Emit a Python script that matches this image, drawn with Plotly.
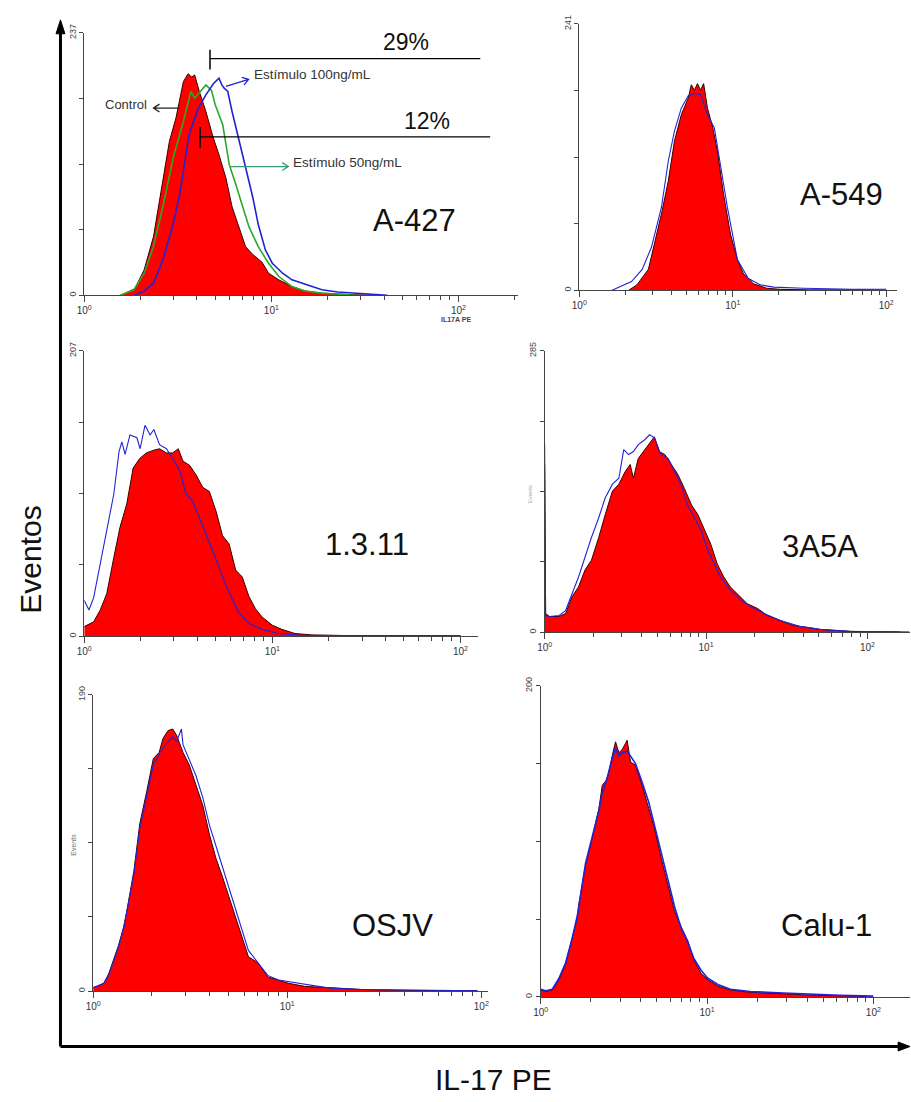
import numpy as np
import plotly.graph_objects as go

W, H = 911, 1102

# ---------------- data (x in log10 of IL-17 PE, y = events) ----------------
A427_CTRL_LOG = [0.20, 0.22, 0.27, 0.32, 0.37, 0.42, 0.455, 0.49, 0.53, 0.555, 0.575, 0.59, 0.615, 0.65, 0.69, 0.72,
                 0.757, 0.79, 0.825, 0.862, 0.90, 0.95, 0.985, 1.04, 1.11, 1.18, 1.27, 1.355, 1.45, 1.6]
A427_CTRL = [0, 2, 6, 23, 53, 104, 139, 160, 193, 200, 197, 199, 184, 166, 142, 127,
             106, 80, 62, 44, 37, 30, 20, 14, 8, 4, 2, 1, 0.5, 0]
A427_50_LOG = [0.19, 0.265, 0.32, 0.37, 0.42, 0.475, 0.53, 0.57, 0.59, 0.61, 0.65, 0.68, 0.70, 0.74, 0.775, 0.81,
               0.845, 0.88, 0.93, 0.985, 1.04, 1.11, 1.18, 1.27, 1.36, 1.45]
A427_50 = [0, 5, 20, 44, 80, 124, 157, 184, 178, 182, 190, 185, 172, 154, 118, 100,
           82, 62, 44, 29, 17, 8, 4, 2, 1, 0]
A427_100_LOG = [0.265, 0.32, 0.37, 0.42, 0.475, 0.51, 0.56, 0.61, 0.65, 0.69, 0.72, 0.735, 0.748, 0.767, 0.79, 0.825,
                0.862, 0.90, 0.93, 0.968, 1.005, 1.06, 1.11, 1.18, 1.27, 1.355, 1.44, 1.53, 1.62]
A427_100 = [0, 4, 11, 32, 64, 91, 145, 169, 181, 191, 196, 190, 187, 184, 166, 142,
            115, 89, 64, 41, 29, 20, 14, 10, 5, 3, 2, 1, 0]

A549_CTRL_LOG = [0.32, 0.375, 0.45, 0.49, 0.535, 0.58, 0.62, 0.665, 0.71, 0.73, 0.75, 0.77, 0.79, 0.81, 0.835, 0.87,
                 0.90, 0.94, 0.985, 1.03, 1.07, 1.135, 1.22, 1.31, 1.5, 1.8, 2.0]
A549_CTRL = [0, 5, 19, 42, 69, 99, 135, 159, 174, 186, 181, 187, 181, 187, 165, 147,
             126, 87, 51, 28, 15, 6, 2, 1, 0.5, 0.5, 0.3]
A549_STIM_LOG = [0.21, 0.28, 0.34, 0.41, 0.47, 0.535, 0.58, 0.62, 0.665, 0.71, 0.75, 0.79, 0.835, 0.88, 0.92, 0.965,
                 1.03, 1.10, 1.18, 1.265, 1.46, 1.78, 2.0]
A549_STIM = [0, 4, 8, 19, 39, 75, 117, 144, 165, 176, 178, 177, 159, 147, 114, 75,
             28, 11, 5, 3, 2, 1, 1]

L1311_CTRL_LOG = [0.0, 0.05, 0.085, 0.12, 0.157, 0.19, 0.226, 0.26, 0.295, 0.33, 0.37, 0.40, 0.437, 0.47, 0.50, 0.525,
                  0.56, 0.595, 0.63, 0.665, 0.70, 0.735, 0.77, 0.805, 0.84, 0.875, 0.91, 0.945, 1.0, 1.05, 1.12, 1.21,
                  1.4, 1.7, 2.0]
L1311_CTRL = [7, 10.5, 19, 31, 57, 79, 96, 122, 129, 133, 135, 136, 133, 133, 136, 127,
              124, 117, 108, 105, 91, 73, 67, 48, 43, 29, 20, 14, 8, 5, 2, 1,
              0.5, 0.5, 0.3]
L1311_STIM_LOG = [0.0, 0.025, 0.05, 0.085, 0.12, 0.157, 0.185, 0.20, 0.217, 0.243, 0.28, 0.297, 0.323, 0.35, 0.37, 0.40,
                  0.437, 0.47, 0.507, 0.542, 0.577, 0.61, 0.647, 0.683, 0.718, 0.75, 0.79, 0.823, 0.877, 0.947, 1.03,
                  1.17, 1.5, 2.0]
L1311_STIM = [26, 19, 28, 52, 76, 103, 134, 141, 132, 146, 144, 136, 153, 146, 150, 139,
              136, 129, 120, 103, 98, 86, 74, 62, 50, 38, 26, 17, 9, 5, 2,
              0.5, 0.5, 0.3]

A3A5A_CTRL_LOG = [0.0, 0.006, 0.03, 0.09, 0.13, 0.17, 0.21, 0.25, 0.29, 0.335, 0.375, 0.42, 0.46, 0.50, 0.53, 0.55,
                  0.58, 0.62, 0.66, 0.68, 0.71, 0.745, 0.785, 0.825, 0.865, 0.91, 0.95, 0.99, 1.03, 1.07, 1.11, 1.15,
                  1.195, 1.255, 1.32, 1.38, 1.46, 1.54, 1.625, 1.705, 1.785, 1.89, 2.09, 2.26]
A3A5A_CTRL = [191, 19, 16, 16, 19, 36, 46, 63, 73, 96, 119, 143, 150, 163, 170, 156,
              176, 185, 193, 198, 183, 180, 170, 160, 146, 129, 119, 103, 89, 69, 56, 46,
              39, 29, 24, 17, 12, 7, 5, 3, 2, 1, 0.5, 0.3]
A3A5A_STIM_LOG = [0.0, 0.006, 0.03, 0.09, 0.13, 0.17, 0.21, 0.25, 0.29, 0.335, 0.375, 0.42, 0.46, 0.49, 0.52, 0.55,
                  0.58, 0.62, 0.65, 0.68, 0.72, 0.765, 0.805, 0.845, 0.885, 0.93, 0.97, 1.01, 1.05, 1.09, 1.15,
                  1.215, 1.275, 1.36, 1.46, 1.58, 1.705, 1.89, 2.2]
A3A5A_STIM = [170, 17, 16, 17, 22, 39, 56, 76, 96, 116, 136, 150, 156, 185, 180, 183,
              190, 195, 200, 197, 180, 176, 163, 150, 129, 116, 103, 83, 69, 56, 43,
              33, 26, 19, 12, 6, 3, 1, 0.5]

OSJV_CTRL_LOG = [0.0, 0.02, 0.055, 0.08, 0.105, 0.13, 0.157, 0.173, 0.21, 0.24, 0.276, 0.31, 0.34, 0.36, 0.386, 0.41,
                 0.43, 0.463, 0.495, 0.53, 0.565, 0.60, 0.633, 0.667, 0.70, 0.735, 0.77, 0.80, 0.85, 0.90, 0.955,
                 1.005, 1.09, 1.21, 1.38, 1.64, 1.98]
OSJV_CTRL = [2.3, 3, 5, 11, 20, 29, 41, 51, 77, 107, 128, 149, 153, 162, 167, 168,
             164, 153, 145, 132, 119, 100, 85, 73, 60, 47, 33, 22, 18, 9, 7,
             5, 3, 2, 1, 0.4, 0.2]
OSJV_STIM_LOG = [0.0, 0.02, 0.055, 0.08, 0.105, 0.13, 0.157, 0.173, 0.21, 0.24, 0.276, 0.31, 0.34, 0.36, 0.386, 0.41,
                 0.43, 0.455, 0.463, 0.495, 0.53, 0.565, 0.60, 0.633, 0.667, 0.70, 0.735, 0.77, 0.80, 0.85, 0.90,
                 0.955, 1.005, 1.09, 1.21, 1.38, 1.64, 1.98]
OSJV_STIM = [2, 3, 5, 10, 19, 28, 40, 50, 75, 104, 125, 145, 152, 156, 160, 163,
             160, 168, 158, 148, 138, 124, 106, 93, 79, 66, 52, 38, 26, 18, 10,
             7, 6, 4, 2, 1, 0.5, 0.2]

CALU1_CTRL_LOG = [0.0, 0.03, 0.07, 0.11, 0.15, 0.19, 0.22, 0.23, 0.27, 0.31, 0.35, 0.37, 0.40, 0.43, 0.45, 0.47,
                  0.49, 0.52, 0.54, 0.57, 0.61, 0.65, 0.685, 0.725, 0.765, 0.805, 0.845, 0.885, 0.92, 0.965, 1.005,
                  1.065, 1.14, 1.26, 1.46, 1.66, 1.96]
CALU1_CTRL = [4.5, 3.4, 4.5, 11, 21, 38, 51, 60, 85, 102, 121, 136, 140, 155, 164, 157,
              159, 165, 151, 149, 136, 121, 108, 89, 72, 55, 45, 36, 24, 15, 11,
              7, 4.5, 3, 2, 1, 0.4]
CALU1_STIM_LOG = [0.0, 0.03, 0.07, 0.11, 0.15, 0.19, 0.22, 0.23, 0.27, 0.31, 0.35, 0.37, 0.40, 0.43, 0.45, 0.47,
                  0.49, 0.52, 0.54, 0.57, 0.61, 0.65, 0.685, 0.725, 0.765, 0.805, 0.845, 0.885, 0.92, 0.965, 1.005,
                  1.065, 1.14, 1.26, 1.46, 1.66, 1.8, 2.0]
CALU1_STIM = [5, 4, 5, 12, 22, 38, 52, 59, 86, 103, 120, 131, 141, 153, 160, 155,
              157, 158, 155, 150, 138, 125, 110, 92, 76, 58, 44, 35, 25, 17, 12,
              8, 5, 3.5, 2.5, 1.5, 1, 0.5]

PANEL_NAMES = ["A-427", "A-549", "1.3.11", "3A5A", "OSJV", "Calu-1"]
Y_MAX = [237, 241, 207, 285, 190, 200]
MAJOR_TICKS = [1, 10, 100]
MINOR_TICKS = [2, 3, 4, 5, 6, 7, 8, 9, 20, 30, 40, 50, 60, 70, 80, 90, 200]
MAJOR_LABELS = ["10<sup>0</sup>", "10<sup>1</sup>", "10<sup>2</sup>"]

# ---------------- layout geometry (pixels) ----------------
GEOM = [
    dict(x0=77, x1=515, dec=189, top=24, bottom=289),
    dict(x0=577, x1=898, dec=155, top=15, bottom=284),
    dict(x0=77, x1=475, dec=190, top=345, bottom=633),
    dict(x0=542, x1=911, dec=163, top=345, bottom=629),
    dict(x0=86, x1=485, dec=196, top=692, bottom=991),
    dict(x0=538, x1=911, dec=168, top=683, bottom=997),
]
LABEL_POS = [(411, 213), (842, 187), (363, 540), (820, 542), (388, 925), (827, 925)]


def px(x):
    return x / W


def py(y):
    return 1 - y / H


RED = "#ff0000"
RED_LINE = "#3a0000"
BLUE = "#2323d6"
GREEN = "#2aa82a"
TEAL = "#3a9a7a"
AXC = "#444444"
FONT = "Arial, Liberation Sans, sans-serif"

series = [
    [(A427_CTRL_LOG, A427_CTRL, "ctrl"), (A427_50_LOG, A427_50, "green"), (A427_100_LOG, A427_100, "blue")],
    [(A549_CTRL_LOG, A549_CTRL, "ctrl"), (A549_STIM_LOG, A549_STIM, "blue")],
    [(L1311_CTRL_LOG, L1311_CTRL, "ctrl"), (L1311_STIM_LOG, L1311_STIM, "blue")],
    [(A3A5A_CTRL_LOG, A3A5A_CTRL, "ctrl"), (A3A5A_STIM_LOG, A3A5A_STIM, "blue")],
    [(OSJV_CTRL_LOG, OSJV_CTRL, "ctrl"), (OSJV_STIM_LOG, OSJV_STIM, "blue")],
    [(CALU1_CTRL_LOG, CALU1_CTRL, "ctrl"), (CALU1_STIM_LOG, CALU1_STIM, "blue")],
]

fig = go.Figure()
layout = dict(
    width=W, height=H, autosize=False,
    margin=dict(l=0, r=0, t=0, b=0, pad=0),
    paper_bgcolor="white", plot_bgcolor="rgba(0,0,0,0)",
    showlegend=False, font=dict(family=FONT, color="#222"),
)

for i, (g, ymax, sers) in enumerate(zip(GEOM, Y_MAX, series)):
    n = i + 1
    xa = "x" if n == 1 else f"x{n}"
    ya = "y" if n == 1 else f"y{n}"
    xrange_max = (g["x1"] - g["x0"]) / g["dec"]
    for logs, vals, kind in sers:
        xs = np.power(10.0, np.array(logs))
        if kind == "ctrl":
            fig.add_trace(go.Scatter(x=xs, y=vals, xaxis=xa, yaxis=ya, mode="lines",
                                     line=dict(color=RED_LINE, width=1), fill="tozeroy",
                                     fillcolor=RED, hoverinfo="skip"))
        else:
            col = GREEN if kind == "green" else BLUE
            wdt = 1.6 if (n == 1 or n == 6) else 1.1
            fig.add_trace(go.Scatter(x=xs, y=vals, xaxis=xa, yaxis=ya, mode="lines",
                                     line=dict(color=col, width=wdt), hoverinfo="skip"))
    maj = [v for v in MAJOR_TICKS if np.log10(v) <= xrange_max + 1e-9]
    labs = MAJOR_LABELS[:len(maj)]
    mino = [v for v in MINOR_TICKS if np.log10(v) <= xrange_max + 1e-9]
    xkey = "xaxis" if n == 1 else f"xaxis{n}"
    ykey = "yaxis" if n == 1 else f"yaxis{n}"
    layout[xkey] = dict(
        type="log", range=[0, xrange_max], domain=[px(g["x0"]), min(1.0, px(g["x1"]))], anchor=ya,
        showgrid=False, zeroline=False, showline=True, linecolor=AXC, linewidth=1,
        ticks="outside", ticklen=6, tickcolor=AXC, tickwidth=1,
        tickmode="array", tickvals=maj, ticktext=labs,
        tickfont=dict(size=10, color="#333", family=FONT),
        minor=dict(ticks="outside", ticklen=4, tickcolor=AXC, tickwidth=1, tickvals=mino),
    )
    layout[ykey] = dict(
        range=[0, ymax], domain=[py(g["bottom"]), py(g["top"])], anchor=xa,
        showgrid=False, zeroline=False, showline=True, linecolor=AXC, linewidth=1,
        ticks="outside", ticklen=4, tickcolor=AXC, tickwidth=1,
        tickmode="array", tickvals=[0, ymax], ticktext=["0", str(ymax)], tickangle=-90,
        tickfont=dict(size=9, color="#444", family=FONT),
        minor=dict(ticks="outside", ticklen=4, tickcolor=AXC, tickwidth=1,
                   tickvals=[ymax / 4, ymax / 2, 3 * ymax / 4]),
    )


def ppath(points_groups):
    parts = []
    for grp in points_groups:
        for k, (x, y) in enumerate(grp):
            parts.append(("M" if k == 0 else "L") + f" {px(x):.5f},{py(y):.5f}")
    return " ".join(parts)


shapes = []
# global axes with arrows
shapes.append(dict(type="line", xref="paper", yref="paper", x0=px(53), x1=px(53), y0=py(1047), y1=py(20),
                   line=dict(color="black", width=3)))
shapes.append(dict(type="path", xref="paper", yref="paper",
                   path=ppath([[(53, 11), (48.5, 25), (57.5, 25)]]) + " Z",
                   fillcolor="black", line=dict(color="black", width=1)))
shapes.append(dict(type="line", xref="paper", yref="paper", x0=px(53), x1=px(902), y0=py(1047), y1=py(1047),
                   line=dict(color="black", width=3)))
shapes.append(dict(type="path", xref="paper", yref="paper",
                   path=ppath([[(911, 1047), (899, 1042.5), (899, 1051.5)]]) + " Z",
                   fillcolor="black", line=dict(color="black", width=1)))
# gates in A-427
for (gx0, gx1, gy, gt, gb) in [(204, 477, 50, 41, 61), (194, 487, 129, 119, 140)]:
    shapes.append(dict(type="line", xref="paper", yref="paper", x0=px(gx0), x1=px(gx1), y0=py(gy), y1=py(gy),
                       line=dict(color="black", width=1.3)))
    shapes.append(dict(type="line", xref="paper", yref="paper", x0=px(gx0), x1=px(gx0), y0=py(gt), y1=py(gb),
                       line=dict(color="black", width=1.5)))
# pointer arrows (open heads)
shapes.append(dict(type="path", xref="paper", yref="paper",
                   path=ppath([[(173, 100), (147, 100)], [(153, 96), (147, 100), (153, 104)]]),
                   line=dict(color="#222", width=1.3)))
shapes.append(dict(type="path", xref="paper", yref="paper",
                   path=ppath([[(220, 78), (243, 71)], [(238.4, 76.6), (243, 71), (236.1, 68.9)]]),
                   line=dict(color=BLUE, width=1.3)))
shapes.append(dict(type="path", xref="paper", yref="paper",
                   path=ppath([[(225, 159), (283, 159)], [(277, 155), (283, 159), (277, 163)]]),
                   line=dict(color=TEAL, width=1.3)))
layout["shapes"] = shapes


def txt(text, x, y, size, color="#111", xanchor="center", angle=0):
    return dict(text=text, x=px(x), y=py(y), xref="paper", yref="paper", showarrow=False,
                xanchor=xanchor, yanchor="middle", textangle=angle,
                font=dict(size=size, color=color, family=FONT))


ann = []
for name, (lx, ly) in zip(PANEL_NAMES, LABEL_POS):
    ann.append(txt(name, lx, ly, 31))
ann.append(txt("29%", 402, 33, 23))
ann.append(txt("12%", 423, 113, 23))
ann.append(txt("Control", 119, 96, 13, "#333"))
ann.append(txt("Estímulo 100ng/mL", 246, 66, 13.5, "#333", xanchor="left"))
ann.append(txt("Estímulo 50ng/mL", 286, 155, 13.5, "#333", xanchor="left"))
ann.append(txt("<b>IL17A PE</b>", 452, 313, 7, "#444"))
ann.append(txt("Events", 66, 843, 7, "#777", angle=-90))
ann.append(txt("Events", 527, 490, 6, "#aaa", angle=-90))
ann.append(txt("Eventos", 23, 556, 30, angle=-90))
ann.append(txt("IL-17 PE", 490, 1080, 30))
layout["annotations"] = ann

fig.update_layout(**layout)
fig.write_html("out.html")
